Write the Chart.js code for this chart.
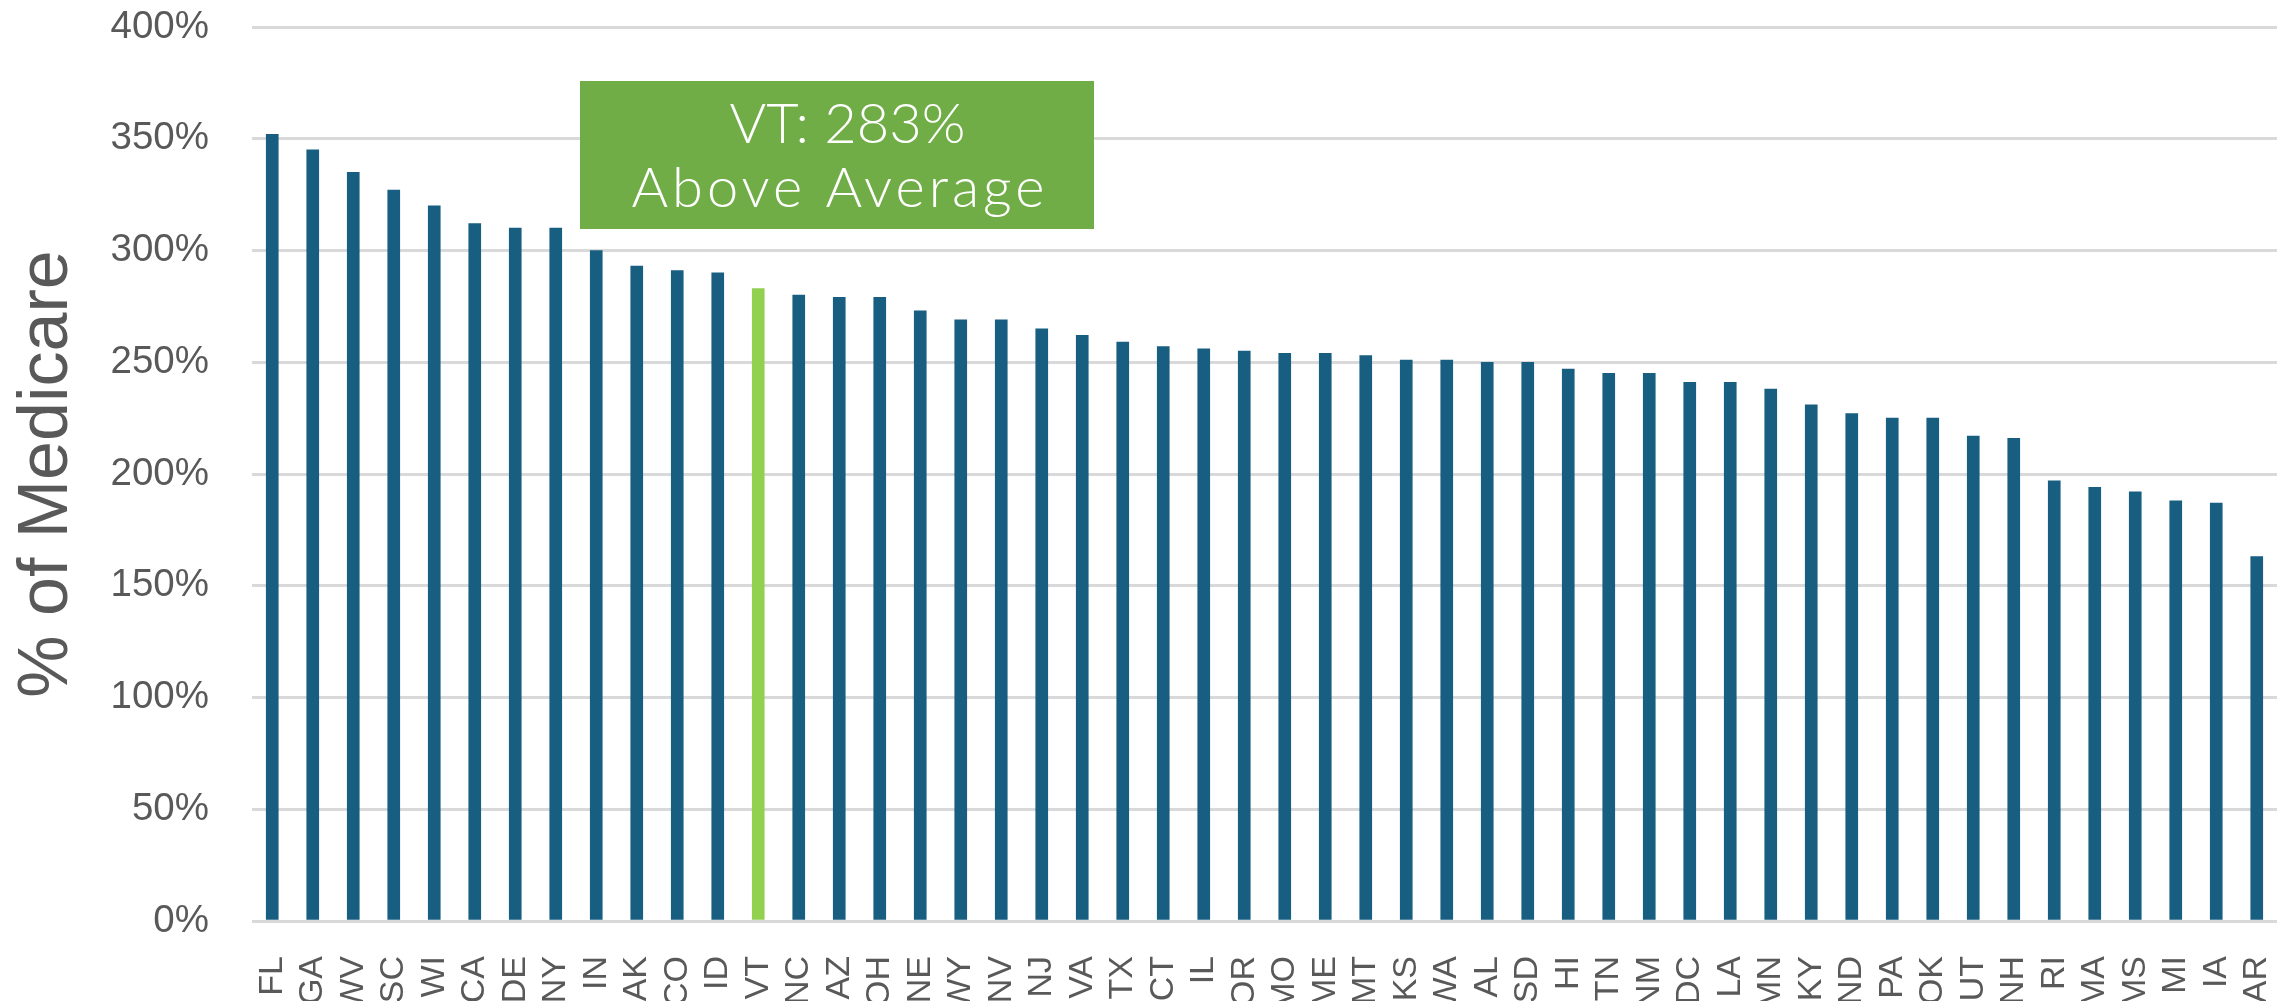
<!DOCTYPE html>
<html lang="en">
<head>
<meta charset="UTF-8">
<title>% of Medicare by state</title>
<script src="https://cdn.jsdelivr.net/npm/chart.js@4.4.1/dist/chart.umd.min.js"></script>
<style>
  html, body { margin: 0; padding: 0; background: #fff; overflow: hidden; }
  #wrap { width: 2292px; height: 1080px; position: relative; }
</style>
</head>
<body>
<div id="wrap"><canvas id="myChart"></canvas></div>
<script>
// states, sorted high to low
const states = ["FL","GA","WV","SC","WI","CA","DE","NY","IN","AK","CO","ID","VT","NC","AZ","OH","NE","WY","NV","NJ",
                "VA","TX","CT","IL","OR","MO","ME","MT","KS","WA","AL","SD","HI","TN","NM","DC","LA","MN","KY","ND",
                "PA","OK","UT","NH","RI","MA","MS","MI","IA","AR"];
// percent of Medicare
const pctOfMedicare = [352,345,335,327,320,312,310,310,300,293,291,290,283,280,279,279,273,269,269,265,
                       262,259,257,256,255,254,254,253,251,251,250,250,247,245,245,241,241,238,231,227,
                       225,225,217,216,197,194,192,188,187,163];
const highlightState = "VT";
const yMin = 0, yMax = 400, yStep = 50;
const calloutLines = ["VT: 283%", "Above Average"];

const barColor = "#175e80";
const highlightColor = "#92d050";
const textGray = "#595959";

// green text box over the chart
const callout = {
    id: "callout",
    afterDraw(chart) {
        const ctx = chart.ctx;
        const a = chart.chartArea;
        const x = a.left + 328, y = a.top + 54, w = 514, h = 148;
        const lineWidths = [217, 413];   // stretch text to the box style
        ctx.save();
        ctx.fillStyle = "#70ad47";
        ctx.fillRect(x, y, w, h);
        ctx.fillStyle = "#ffffff";
        ctx.font = "300 56px Lato";
        ctx.textAlign = "left";
        ctx.textBaseline = "alphabetic";
        calloutLines.forEach((t, i) => {
            ctx.letterSpacing = "0px";
            const w0 = ctx.measureText(t).width;
            const sp = Math.max(0, (lineWidths[i] - w0) / (t.length - 1));
            ctx.letterSpacing = sp + "px";
            const cx = x + w / 2 + 1;
            ctx.fillText(t, cx - lineWidths[i] / 2, y + 62 + i * 64);
        });
        ctx.restore();
    }
};

new Chart("myChart", {
    type: "bar",
    data: {
        labels: states,
        datasets: [{
            data: pctOfMedicare,
            backgroundColor: states.map(s => s === highlightState ? highlightColor : barColor),
            barThickness: 12,
            borderWidth: 0
        }]
    },
    options: {
        responsive: true,
        maintainAspectRatio: false,
        animation: false,
        layout: { padding: { top: 27, right: 15, left: 0, bottom: 0 } },
        plugins: {
            legend: { display: false },
            tooltip: { enabled: false }
        },
        scales: {
            x: {
                grid: { display: false },
                border: { display: false },
                ticks: {
                    autoSkip: false,
                    minRotation: 90,
                    maxRotation: 90,
                    padding: 27,
                    color: textGray,
                    font: { family: "Liberation Sans", size: 34 }
                },
                afterFit(s) {
                    s.height = 159;
                    s.paddingLeft = 0;
                    s.paddingRight = 0;
                }
            },
            y: {
                min: yMin,
                max: yMax,
                border: { display: false },
                grid: { color: "#d9d9d9", lineWidth: 3, drawTicks: false },
                ticks: {
                    stepSize: yStep,
                    padding: 43,
                    color: textGray,
                    font: { family: "Liberation Sans", size: 38.5 },
                    callback: v => v + "%"
                },
                title: {
                    display: true,
                    text: "% of Medicare",
                    color: textGray,
                    padding: { top: 6, bottom: 0 },
                    font: { family: "Liberation Sans", size: 70 }
                },
                afterFit(s) {
                    s.width = 252;
                    s.paddingTop = 0;
                    s.paddingBottom = 0;
                }
            }
        }
    },
    plugins: [callout]
});
</script>
</body>
</html>
